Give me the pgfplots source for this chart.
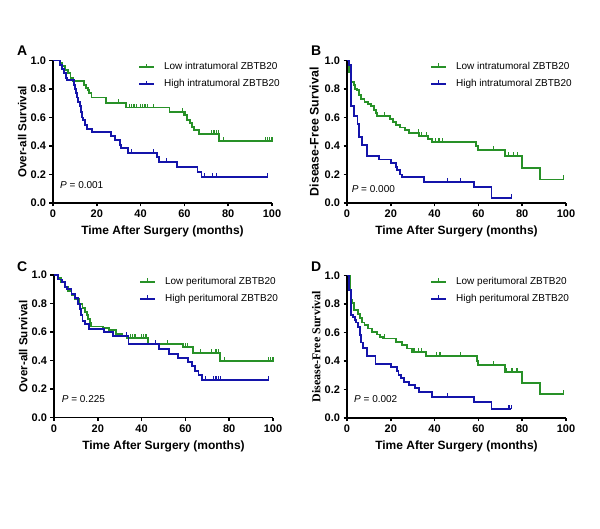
\documentclass[border=0pt]{standalone}
\usepackage{pgfplots}
\pgfplotsset{compat=1.18}
\usepackage{fontspec}
\setmainfont{Liberation Sans}
\newfontfamily\timesfont{Liberation Serif}

\definecolor{kmgreen}{RGB}{40,145,40}
\definecolor{kmblue}{RGB}{20,20,170}

% censoring tick
\pgfdeclareplotmark{cens}{%
  \pgfpathmoveto{\pgfqpoint{0pt}{-0.5pt}}%
  \pgfpathlineto{\pgfqpoint{0pt}{4pt}}%
  \pgfusepathqstroke}

\tikzset{
  ptext/.style={anchor=west, inner sep=0pt, font=\fontsize{10}{12}\selectfont},
  letter/.style={anchor=base west, inner sep=0pt, font=\fontsize{14}{16}\selectfont\bfseries},
}

\pgfplotsset{
  km/.style={
    scale only axis, width=219pt, height=142.5pt,
    xmin=0, xmax=100, ymin=0, ymax=1,
    axis x line*=bottom, axis y line*=left,
    axis line style={line width=1.5pt, black, -},
    xtick={0,20,40,60,80,100}, ytick={0,0.2,0.4,0.6,0.8,1.0},
    tick align=outside, major tick length=3.5pt,
    tick style={line width=1.5pt, black},
    /pgf/number format/assume math mode=true,
    tick label style={font=\fontsize{11}{12}\selectfont\bfseries},
    yticklabel style={/pgf/number format/.cd, fixed, fixed zerofill, precision=1},
    xlabel={Time After Surgery (months)},
    every axis x label/.style={at={(axis description cs:0.5,-0.2)}, anchor=center,
      font=\fontsize{12}{14}\selectfont\bfseries},
    every axis y label/.style={at={(axis description cs:-0.14,0.5)}, anchor=center, rotate=90,
      font=\fontsize{11.6}{14}\selectfont\bfseries},
    legend style={draw=none, fill=none, inner sep=0pt, row sep=8pt, column sep=9pt,
      font=\fontsize{10}{12}\selectfont,
      nodes={inner sep=0pt, text height=7pt, text depth=2pt}},
    legend cell align=left,
    legend image code/.code={
      \draw[#1, mark=none] (0pt,0pt) -- (15pt,0pt);
      \draw[#1, mark=none, line width=1.1pt] (7.5pt,0pt) -- (7.5pt,3.5pt);},
    clip=false,
  },
  low/.style={kmgreen, line width=1.9pt, const plot, mark=none},
  high/.style={kmblue, line width=1.9pt, const plot, mark=none},
  lowc/.style={kmgreen, only marks, mark=cens, mark options={line width=1.2pt}, forget plot},
  highc/.style={kmblue, only marks, mark=cens, mark options={line width=1.2pt}, forget plot},
}

\begin{document}
\begin{tikzpicture}[x=1pt,y=1pt]
\path[use as bounding box] (0,0) rectangle (600,529);

% ---------- A ----------
\begin{axis}[km, at={(53pt,326pt)}, anchor=south west,
  ylabel={Over-all Survival},
  legend style={at={(axis description cs:0.388,0.986)}, anchor=north west}]
\addplot[low] coordinates {(0,1) (3,0.98) (4,0.96) (5.5,0.935) (7,0.91) (8,0.88) (9,0.855)
  (14,0.83) (15,0.81) (15.8,0.795) (16.5,0.77) (17.6,0.74) (24,0.70) (33.5,0.67) (53.2,0.64)
  (60,0.615) (61,0.585) (62.5,0.56) (63.5,0.535) (64.5,0.51) (66.5,0.486) (76,0.432) (100,0.432)};
\addlegendentry{Low intratumoral ZBTB20}
\addplot[high] coordinates {(0,1) (3,0.97) (4,0.94) (5,0.91) (6,0.88) (6.5,0.86) (9.5,0.83)
  (10,0.80) (10.5,0.77) (11,0.74) (11.5,0.71) (12.3,0.68) (12.8,0.64) (13.2,0.60) (13.8,0.58)
  (14.5,0.55) (15.5,0.52) (18,0.50) (26.6,0.47) (28.2,0.44) (30.5,0.41) (31.2,0.385) (34.2,0.35)
  (47.4,0.32) (48.3,0.29) (56.5,0.255) (66,0.22) (67.8,0.185) (98,0.185)};
\addlegendentry{High intratumoral ZBTB20}
\addplot[lowc] coordinates {(30,0.70) (35,0.67) (36,0.67) (37,0.67) (38,0.67) (40,0.67) (41,0.67)
  (42,0.67) (43,0.67) (46,0.67) (59,0.64) (60.5,0.615) (72.5,0.486) (73.5,0.486) (74.5,0.486)
  (75.5,0.486) (78,0.432) (97,0.432) (98,0.432) (99,0.432) (100,0.432)};
\addplot[highc] coordinates {(36,0.35) (46,0.35) (52,0.29) (69,0.185) (73,0.185) (74.5,0.185) (98,0.185)};
\node[ptext] at (axis cs:3.2,0.127) {\textit{P} = 0.001};
\end{axis}

% ---------- B ----------
\begin{axis}[km, at={(347pt,326pt)}, anchor=south west,
  ylabel={Disease-Free Survival},
  every axis y label/.append style={at={(axis description cs:-0.15,0.5)}, font=\fontsize{12.4}{14}\selectfont\bfseries},
  legend style={at={(axis description cs:0.379,0.99)}, anchor=north west}]
\addplot[low] coordinates {(0,1) (1,0.92) (2,0.85) (3,0.83) (3.5,0.80) (4.5,0.79) (5.5,0.76)
  (6.3,0.73) (8,0.71) (9.6,0.695) (11,0.68) (12.2,0.65) (13.1,0.63) (13.8,0.61) (19.5,0.59)
  (21,0.57) (22.5,0.55) (24,0.53) (26.5,0.51) (28.5,0.49) (33,0.47) (37,0.45) (39,0.43)
  (59,0.40) (60,0.37) (72,0.33) (80,0.245) (88,0.165) (99,0.165)};
\addlegendentry{Low intratumoral ZBTB20}
\addplot[high] coordinates {(0,1) (1,0.97) (2,0.68) (3,0.61) (4.8,0.555) (5.5,0.46) (7,0.41)
  (9,0.33) (14.5,0.305) (20,0.28) (22.3,0.255) (23,0.23) (24,0.20) (25,0.18) (35,0.15)
  (58,0.11) (66,0.035) (75,0.035)};
\addlegendentry{High intratumoral ZBTB20}
\addplot[lowc] coordinates {(17,0.61) (32.5,0.49) (34,0.47) (36.3,0.47) (40.5,0.43) (42,0.43)
  (43.5,0.43) (67,0.37) (73.7,0.33) (76,0.33) (78,0.33) (99,0.165)};
\addplot[highc] coordinates {(46,0.15) (52,0.15) (75,0.035)};
\node[ptext] at (axis cs:2.1,0.10) {\textit{P} = 0.000};
\end{axis}

% ---------- C ----------
\begin{axis}[km, at={(54pt,111.3pt)}, anchor=south west,
  ylabel={Over-all Survival},
  legend style={at={(axis description cs:0.388,0.986)}, anchor=north west}]
\addplot[low] coordinates {(0,1) (2,0.98) (3.3,0.955) (5,0.92) (6.5,0.89) (8,0.86) (9.5,0.83)
  (11.5,0.80) (13,0.77) (14,0.74) (14.9,0.72) (15.5,0.69) (16.3,0.665) (16.9,0.64) (22.2,0.627)
  (25.3,0.615) (28.4,0.59) (31,0.575) (33.2,0.557) (43,0.517) (59,0.498) (63.3,0.452)
  (76,0.395) (100,0.395)};
\addlegendentry{Low peritumoral ZBTB20}
\addplot[high] coordinates {(0,1) (2,0.97) (3.5,0.95) (5,0.92) (6,0.90) (8,0.87) (9.5,0.84)
  (11,0.80) (12,0.76) (12.5,0.72) (13,0.68) (14,0.66) (16,0.625) (23,0.60) (27,0.575) (34,0.52)
  (48,0.485) (52.5,0.45) (56.5,0.42) (61,0.39) (63,0.36) (64.3,0.33) (66,0.30) (67.5,0.265)
  (98,0.265)};
\addlegendentry{High peritumoral ZBTB20}
\addplot[lowc] coordinates {(35,0.557) (36,0.557) (37,0.557) (40,0.557) (41,0.557) (42,0.557)
  (52,0.517) (60,0.498) (61,0.498) (67,0.452) (72,0.452) (74,0.452) (75,0.452) (78,0.395)
  (98,0.395) (99,0.395) (100,0.395)};
\addplot[highc] coordinates {(33,0.575) (46.4,0.52) (69,0.265) (73,0.265) (74,0.265) (75,0.265)
  (76,0.265) (98,0.265)};
\node[ptext] at (axis cs:3.5,0.13) {\textit{P} = 0.225};
\end{axis}

% ---------- D ----------
\begin{axis}[km, at={(347pt,111pt)}, anchor=south west,
  ylabel={Disease-Free Survival},
  every axis y label/.append style={font=\fontsize{12}{14}\selectfont\timesfont\bfseries},
  legend style={at={(axis description cs:0.379,0.99)}, anchor=north west}]
\addplot[low] coordinates {(0,1) (1.4,0.90) (2,0.83) (2.5,0.81) (3,0.76) (5,0.73) (6,0.70)
  (7,0.67) (8,0.65) (9.5,0.628) (11.3,0.605) (13.5,0.586) (15,0.57) (16.6,0.558) (22.5,0.535)
  (25,0.51) (27.3,0.488) (29.6,0.465) (36,0.436) (59.5,0.40) (60,0.372) (72,0.32) (80,0.243)
  (88,0.166) (99,0.166)};
\addlegendentry{Low peritumoral ZBTB20}
\addplot[high] coordinates {(0,1) (1,0.90) (2,0.72) (2.7,0.71) (3.5,0.69) (4.3,0.67) (5,0.64)
  (6,0.58) (6.4,0.53) (7.5,0.49) (9,0.437) (13,0.38) (20,0.36) (23,0.33) (23.5,0.30)
  (24.5,0.28) (26,0.25) (28.5,0.23) (31,0.21) (33,0.18) (39,0.15) (58,0.11) (66,0.06) (75,0.06)};
\addlegendentry{High peritumoral ZBTB20}
\addplot[lowc] coordinates {(17,0.558) (30.3,0.465) (31,0.465) (32.5,0.465) (34,0.465)
  (41,0.436) (42.5,0.436) (52,0.436) (67,0.372) (73,0.32) (75.3,0.32) (77.6,0.32) (99,0.166)};
\addplot[highc] coordinates {(46,0.15) (74,0.065) (75,0.065)};
\node[ptext] at (axis cs:3.2,0.13) {\textit{P} = 0.002};
\end{axis}

% panel letters
\node[letter] at (17,473) {A};
\node[letter] at (311,473) {B};
\node[letter] at (17,257) {C};
\node[letter] at (311,257) {D};
\end{tikzpicture}
\end{document}
